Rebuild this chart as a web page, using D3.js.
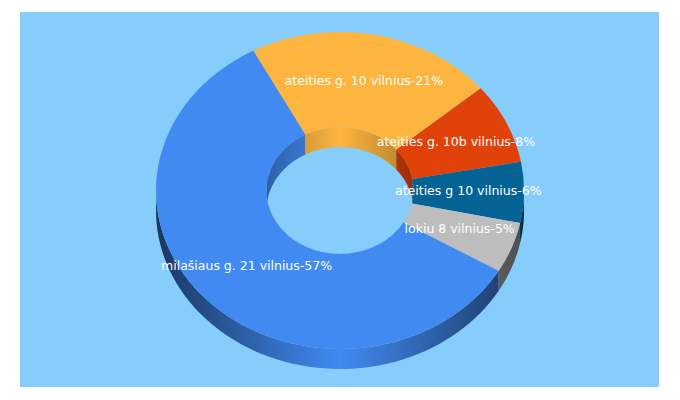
<!DOCTYPE html>
<html>
<head>
<meta charset="utf-8">
<script src="https://cdn.jsdelivr.net/npm/d3@7"></script>
<style>
  body { margin: 0; background: #fff; }
  svg { display: block; }
</style>
</head>
<body>
<div id="chart"></div>
<script>
// data
const names = ["milašiaus g. 21 vilnius", "ateities g. 10 vilnius", "ateities g. 10b vilnius", "ateities g 10 vilnius", "lokiu 8 vilnius"];
const shares = [57, 21, 8, 6, 5];
const colors = ["#418af2", "#fdb53f", "#e04209", "#056295", "#bdbdbd"];

// layout
const width = 680, height = 400;
const cx = 340, cy = 190.5, rx = 184, ry = 158.5, depth = 20;
const holeRatio = 0.4;
const flat = ry / rx;
const rad = d => d * Math.PI / 180;

const svg = d3.select("#chart").append("svg")
  .attr("width", width)
  .attr("height", height);

const defs = svg.append("defs");

svg.append("rect")
  .attr("x", 20).attr("y", 12)
  .attr("width", 639).attr("height", 375)
  .attr("fill", "#87cdfb");

const pie = d3.pie().sort(null)
  .startAngle(rad(120.4))
  .endAngle(rad(480.4));
const slices = pie(shares);

const arc = d3.arc().innerRadius(rx * holeRatio).outerRadius(rx);

// horizontal shading for the sides, bright in the middle
function shade(id, color, r, dark) {
  const g = defs.append("linearGradient")
    .attr("id", id)
    .attr("gradientUnits", "userSpaceOnUse")
    .attr("x1", cx - r).attr("x2", cx + r)
    .attr("y1", 0).attr("y2", 0);
  const c = d3.scaleLinear().domain([0, 1]).range([d3.rgb(0, 0, 0), d3.rgb(color)]);
  [[0, dark], [0.5, 1], [1, dark]].forEach(([o, k]) => {
    g.append("stop").attr("offset", o).attr("stop-color", c(k));
  });
  return `url(#${id})`;
}

// one side wall between two angles on a ring
function wall(a0, a1, r, fill) {
  const scaleX = r, scaleY = r * flat;
  const angles = d3.range(0, 61).map(d3.scaleLinear().domain([0, 60]).range([a0, a1]));
  const area = d3.area()
    .x(a => cx + scaleX * Math.sin(a))
    .y0(a => cy - scaleY * Math.cos(a))
    .y1(a => cy - scaleY * Math.cos(a) + depth);
  svg.append("path").attr("d", area(angles)).attr("fill", fill);
}

// part of [a0,a1] inside [lo,hi]
function clipAngles(a0, a1, lo, hi) {
  const s = Math.max(a0, rad(lo)), e = Math.min(a1, rad(hi));
  return e > s ? [s, e] : null;
}

// inner walls first
slices.forEach((d, i) => {
  const part = clipAngles(d.startAngle, d.endAngle, 270, 450);
  if (part) wall(part[0], part[1], rx * holeRatio, shade("in" + i, colors[i], rx * holeRatio, 0.7));
});

// outer walls
slices.forEach((d, i) => {
  const fill = shade("out" + i, colors[i], rx, 0.4);
  [[90, 270], [450, 630]].forEach(([lo, hi]) => {
    const part = clipAngles(d.startAngle, d.endAngle, lo, hi);
    if (part) wall(part[0], part[1], rx, fill);
  });
});

// top faces
const faces = svg.append("g")
  .attr("transform", `translate(${cx},${cy}) scale(1,${flat})`);
faces.selectAll("path")
  .data(slices)
  .join("path")
  .attr("d", arc)
  .attr("fill", (d, i) => colors[i]);

// labels
svg.selectAll("text.label")
  .data(slices)
  .join("text")
  .attr("class", "label")
  .attr("x", d => cx + arc.centroid(d)[0] - 0.5)
  .attr("y", d => cy + arc.centroid(d)[1] * flat + 3)
  .attr("text-anchor", "middle")
  .attr("fill", "#fff")
  .style("font-family", "'DejaVu Sans', sans-serif")
  .style("font-size", "12.5px")
  .text((d, i) => `${names[i]}-${shares[i]}%`);
</script>
</body>
</html>
